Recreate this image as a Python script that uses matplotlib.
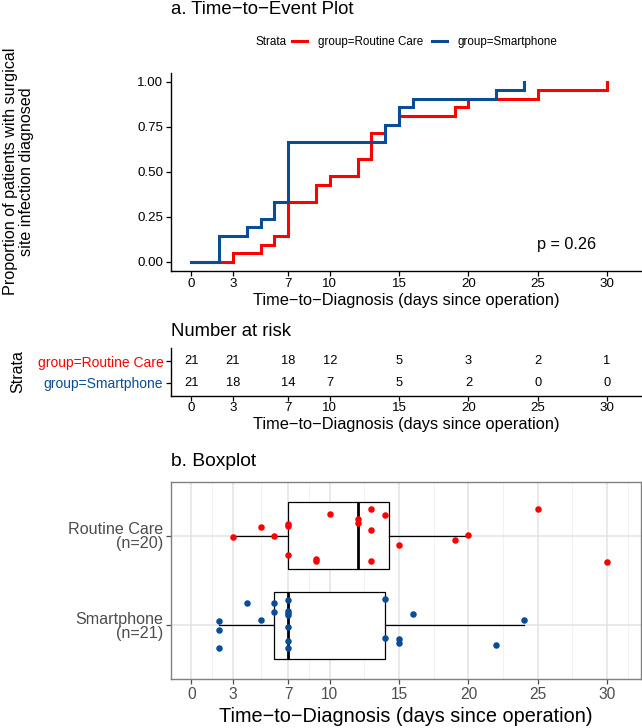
import numpy as np
import matplotlib.pyplot as plt

plt.rcParams['font.family'] = ['Liberation Sans', 'DejaVu Sans']

# ---------- data ----------
GROUPS = ['Routine Care', 'Smartphone']
X_TICKS = [0, 3, 7, 10, 15, 20, 25, 30]
RISK_TIMES = [0, 3, 7, 10, 15, 20, 25, 30]
Y_TICKS = [0, 0.25, 0.5, 0.75, 1.0]
P_VALUE = 0.26

# days to diagnosis, one per patient (all events, no censoring)
km_routine = [3, 5, 6, 7, 7, 7, 7, 9, 9, 10, 12, 12, 13, 13, 13, 14, 15, 19, 20, 25, 30]
km_smart = [2, 2, 2, 4, 5, 6, 6, 7, 7, 7, 7, 7, 7, 7, 14, 14, 15, 15, 16, 22, 24]

# boxplot data + vertical jitter
box_routine = [3, 5, 6, 7, 7, 7, 9, 9, 10, 12, 12, 13, 13, 13, 14, 15, 19, 20, 25, 30]
jit_routine = [-0.02, 0.10, 0.0, 0.13, 0.11, -0.215, -0.26, -0.28, 0.235, 0.18,
               0.135, 0.30, 0.067, -0.285, 0.23, -0.11, -0.045, 0.01, 0.30, -0.29]
box_smart = [2, 2, 2, 4, 5, 6, 6, 7, 7, 7, 7, 7, 7, 7, 14, 14, 15, 15, 16, 22, 24]
jit_smart = [0.045, -0.056, -0.25, 0.25, 0.06, 0.245, 0.15, 0.28, 0.155, 0.135,
             0.12, -0.02, -0.17, -0.255, 0.29, -0.145, -0.15, -0.2, 0.125, -0.22, 0.065]

COLORS = {'Routine Care': '#FF0000', 'Smartphone': '#0A4C96'}
XMIN, XMAX = -1.46, 32.45


def km_curve(times):
    t = np.sort(np.asarray(times, float))
    uniq, counts = np.unique(t, return_counts=True)
    at_risk = len(t) - np.concatenate([[0], np.cumsum(counts)[:-1]])
    surv = np.cumprod(1 - counts / at_risk)
    return np.concatenate([[0], uniq]), np.concatenate([[0], 1 - surv])


def n_at_risk(times, t):
    return int(np.sum(np.asarray(times) >= t))


fig = plt.figure(figsize=(6.42, 7.28), dpi=100)
W, H = 642, 728

# ---------- a. KM plot ----------
ax = fig.add_axes([171 / W, 1 - 270.7 / H, 470 / W, 198 / H])
for g, times in zip(GROUPS, [km_routine, km_smart]):
    xs, ys = km_curve(times)
    ax.step(xs, ys, where='post', color=COLORS[g], lw=2.2, solid_joinstyle='miter')
ax.set_xlim(XMIN, XMAX)
ax.set_ylim(-0.05, 1.05)
ax.set_xticks(X_TICKS)
ax.set_yticks(Y_TICKS)
ax.set_yticklabels([f'{v:.2f}' for v in Y_TICKS])
for s in ['top', 'right']:
    ax.spines[s].set_visible(False)
for s in ['left', 'bottom']:
    ax.spines[s].set_linewidth(1.0)
ax.tick_params(labelsize=9.6, length=3.5, width=0.9, colors='black', pad=2)
ax.text(27.1, 0.094, f'p = {P_VALUE}', ha='center', va='center', fontsize=11.7)

fig.text(171 / W, 1 - 10 / H, 'a. Time\u2212to\u2212Event Plot', ha='left', va='center', fontsize=13.4)
fig.text(18.5 / W, 1 - 171.7 / H, 'Proportion of patients with surgical\nsite infection diagnosed',
         rotation=90, ha='center', va='center', fontsize=11.6, linespacing=1.05, multialignment='center')
fig.text(406 / W, 1 - 301 / H, 'Time\u2212to\u2212Diagnosis (days since operation)',
         ha='center', va='center', fontsize=11.8)

# legend
fig.text(255 / W, 1 - 42 / H, 'Strata', ha='left', va='center', fontsize=8.4)
handles = [plt.Line2D([], [], color=COLORS[g], lw=2.2) for g in GROUPS]
fig.legend(handles, ['group=' + g for g in GROUPS], loc='center left',
           bbox_to_anchor=(292 / W, 1 - 42 / H), ncol=2, frameon=False, fontsize=8.4,
           handlelength=1.3, handletextpad=0.9, columnspacing=0.8,
           borderpad=0, borderaxespad=0)

# ---------- risk table ----------
axr = fig.add_axes([171 / W, 1 - 396 / H, 470 / W, 48 / H])
for row, (g, times) in zip([2, 1], zip(GROUPS, [km_routine, km_smart])):
    for t in RISK_TIMES:
        axr.text(t, row, str(n_at_risk(times, t)), ha='center', va='center', fontsize=9.3)
axr.set_xlim(XMIN, XMAX)
axr.set_ylim(0.4, 2.6)
axr.set_xticks(X_TICKS)
axr.set_yticks([2, 1])
axr.set_yticklabels(['group=' + g for g in GROUPS], fontsize=10)
for lab, g in zip(axr.get_yticklabels(), GROUPS):
    lab.set_color(COLORS[g])
for s in ['top', 'right']:
    axr.spines[s].set_visible(False)
for s in ['left', 'bottom']:
    axr.spines[s].set_linewidth(1.0)
axr.tick_params(axis='x', labelsize=9.6, length=3.5, width=0.9, pad=1)
axr.tick_params(axis='y', length=3.5, width=0.9, pad=2)
fig.text(171 / W, 1 - 332 / H, 'Number at risk', ha='left', va='center', fontsize=13.3)
fig.text(18 / W, 1 - 372 / H, 'Strata', rotation=90, ha='center', va='center', fontsize=11.5)
fig.text(406 / W, 1 - 424 / H, 'Time\u2212to\u2212Diagnosis (days since operation)',
         ha='center', va='center', fontsize=11.8)

# ---------- b. boxplot ----------
axb = fig.add_axes([171 / W, 1 - 679.3 / H, 470 / W, 197.6 / H])
axb.set_axisbelow(True)
minor = [1.5, 5, 8.5, 12.5, 17.5, 22.5, 27.5, 31.5]
axb.set_xticks(minor, minor=True)
axb.grid(True, which='minor', axis='x', color='#F0F0F0', lw=0.6)
axb.grid(True, which='major', axis='both', color='#E3E3E3', lw=1.1)
bp = axb.boxplot([box_routine, box_smart], positions=[2, 1], vert=False, widths=0.75,
                 whis=1.4, showfliers=False, showcaps=False, patch_artist=True,
                 boxprops=dict(facecolor='white', edgecolor='black', lw=0.9),
                 whiskerprops=dict(color='black', lw=0.9),
                 medianprops=dict(color='black', lw=2.0))
for g, vals, jit, pos in [('Routine Care', box_routine, jit_routine, 2),
                          ('Smartphone', box_smart, jit_smart, 1)]:
    axb.scatter(vals, pos + np.asarray(jit), s=22, color=COLORS[g], zorder=3, linewidths=0)
axb.set_xlim(XMIN, XMAX)
axb.set_ylim(0.4, 2.6)
axb.set_xticks(X_TICKS)
axb.set_xticklabels([str(v) for v in X_TICKS])
axb.set_yticks([2, 1])
axb.set_yticklabels([f'Routine Care\n(n={len(box_routine)})', f'Smartphone\n(n={len(box_smart)})'],
                    fontsize=11.6, ha='right', linespacing=0.95)
for s in axb.spines.values():
    s.set_color('#808080')
    s.set_linewidth(1.0)
axb.tick_params(axis='x', which='major', labelsize=11.2, labelcolor='#4D4D4D',
                color='#4D4D4D', length=3.5, width=0.9, pad=2)
axb.tick_params(axis='x', which='minor', length=0)
axb.tick_params(axis='y', labelcolor='#4D4D4D', color='#4D4D4D', length=3.5, width=0.9, pad=2)
fig.text(171 / W, 1 - 462 / H, 'b. Boxplot', ha='left', va='center', fontsize=13.9)
fig.text(406 / W, 1 - 716 / H, 'Time\u2212to\u2212Diagnosis (days since operation)',
         ha='center', va='center', fontsize=14.3)

fig.savefig('out.png', dpi=100, facecolor='white')
